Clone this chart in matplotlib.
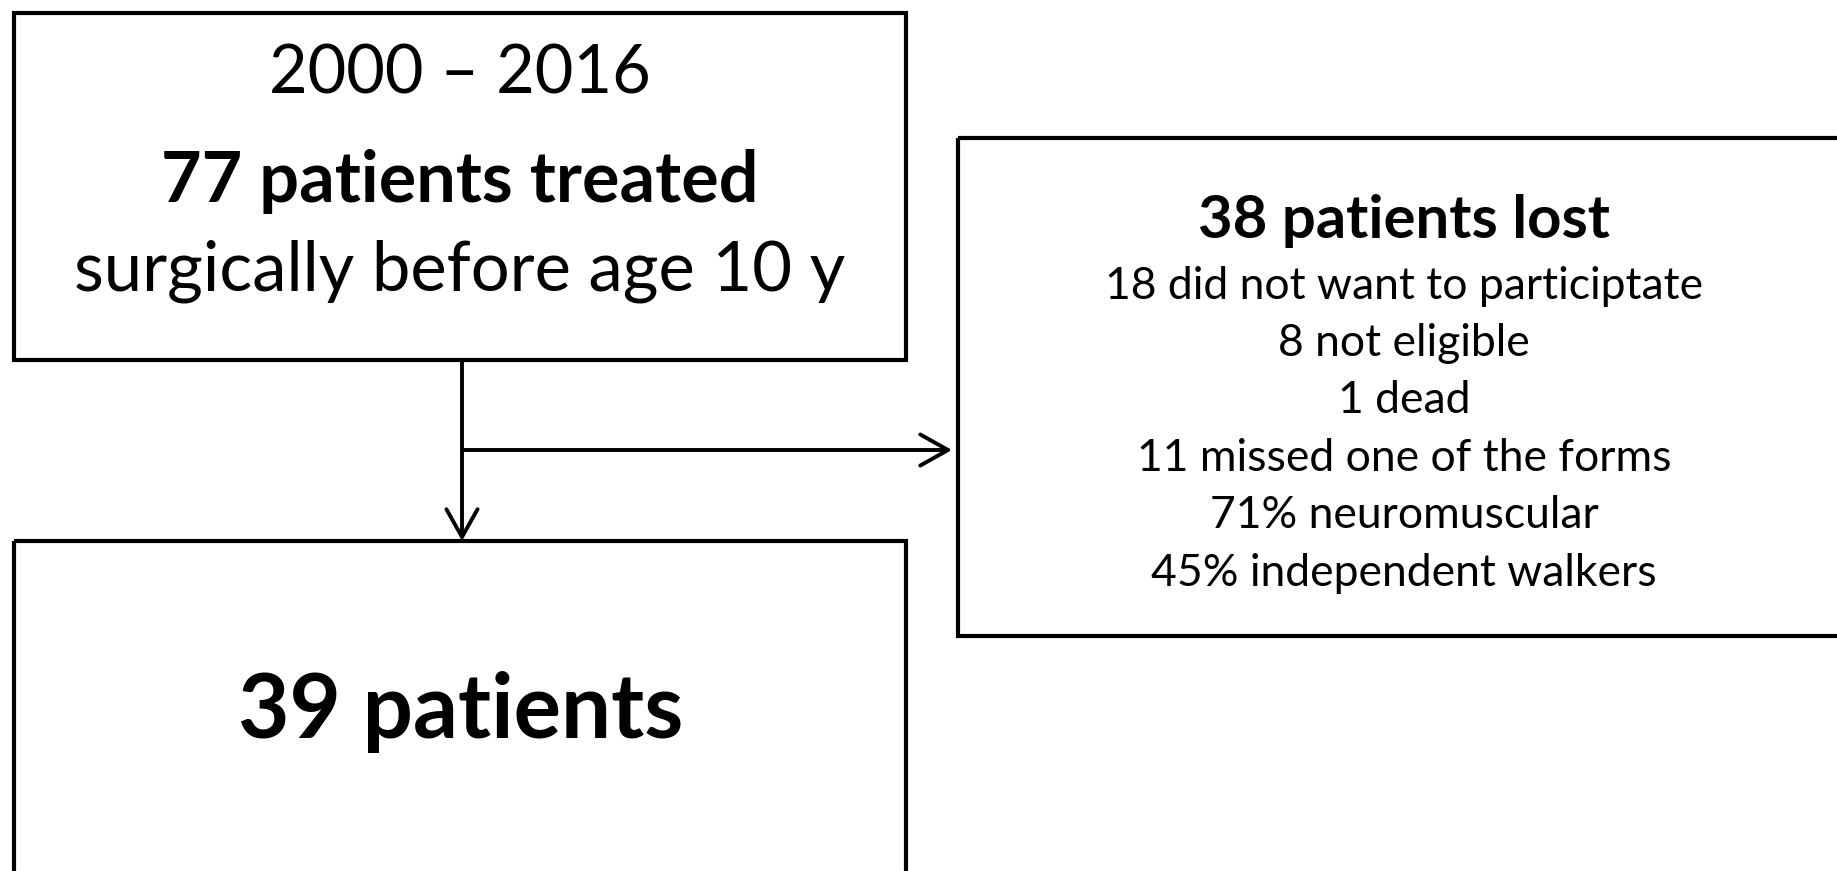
"""
Flow chart: patients treated surgically before age 10.
"""

import matplotlib
matplotlib.use("Agg")
import matplotlib.pyplot as plt
from matplotlib.patches import Rectangle

plt.rcParams["font.family"] = ["Lato", "DejaVu Sans"]

# texts
period = "2000 \u2013 2016"
treated_title = "77 patients treated"
treated_sub = "surgically before age 10 y"
lost_title = "38 patients lost"
lost_lines = [
    "18 did not want to participtate",
    "8 not eligible",
    "1 dead",
    "11 missed one of the forms",
    "71% neuromuscular",
    "45% independent walkers",
]
final_title = "39 patients"

W, H = 1837, 871
fig = plt.figure(figsize=(W / 100, H / 100), dpi=100)
fig.set_facecolor("white")
ax = fig.add_axes([0, 0, 1, 1])
ax.set_xlim(0, W)
ax.set_ylim(H, 0)
ax.axis("off")

BOX_LW = 3.0
LINE_LW = 2.8

# boxes (x, y, w, h) in pixels
box_top = (14, 13, 892, 347)
box_lost = (958, 138, 900, 498)
box_final = (14, 541, 892, 360)
for (x, y, w, h) in (box_top, box_lost, box_final):
    ax.add_patch(Rectangle((x, y), w, h, fill=False, ec="black", lw=BOX_LW,
                           joinstyle="miter"))

# top box text
cx = 460
ax.text(cx, 74, period, ha="center", va="center", fontsize=48)
ax.text(cx, 182, treated_title, ha="center", va="center", fontsize=50.5, fontweight="bold")
ax.text(cx, 271, treated_sub, ha="center", va="center", fontsize=49.5)

# lost box text
lx = 1404
ax.text(lx, 221, lost_title, ha="center", va="center", fontsize=43, fontweight="bold")
for i, line in enumerate(lost_lines):
    ax.text(lx, 286 + i * 57.4, line, ha="center", va="center", fontsize=32)

# final box
ax.text(461, 712, final_title, ha="center", va="center", fontsize=64, fontweight="bold")

# arrows
arrow = dict(arrowstyle="->,head_length=0.5,head_width=0.28", lw=LINE_LW,
             color="black", mutation_scale=40, shrinkA=0, shrinkB=0)
ax.annotate("", xy=(462, 541), xytext=(462, 360), arrowprops=arrow)
ax.annotate("", xy=(952, 450), xytext=(462, 450), arrowprops=arrow)

fig.savefig("out.png", dpi=100, facecolor="white")
